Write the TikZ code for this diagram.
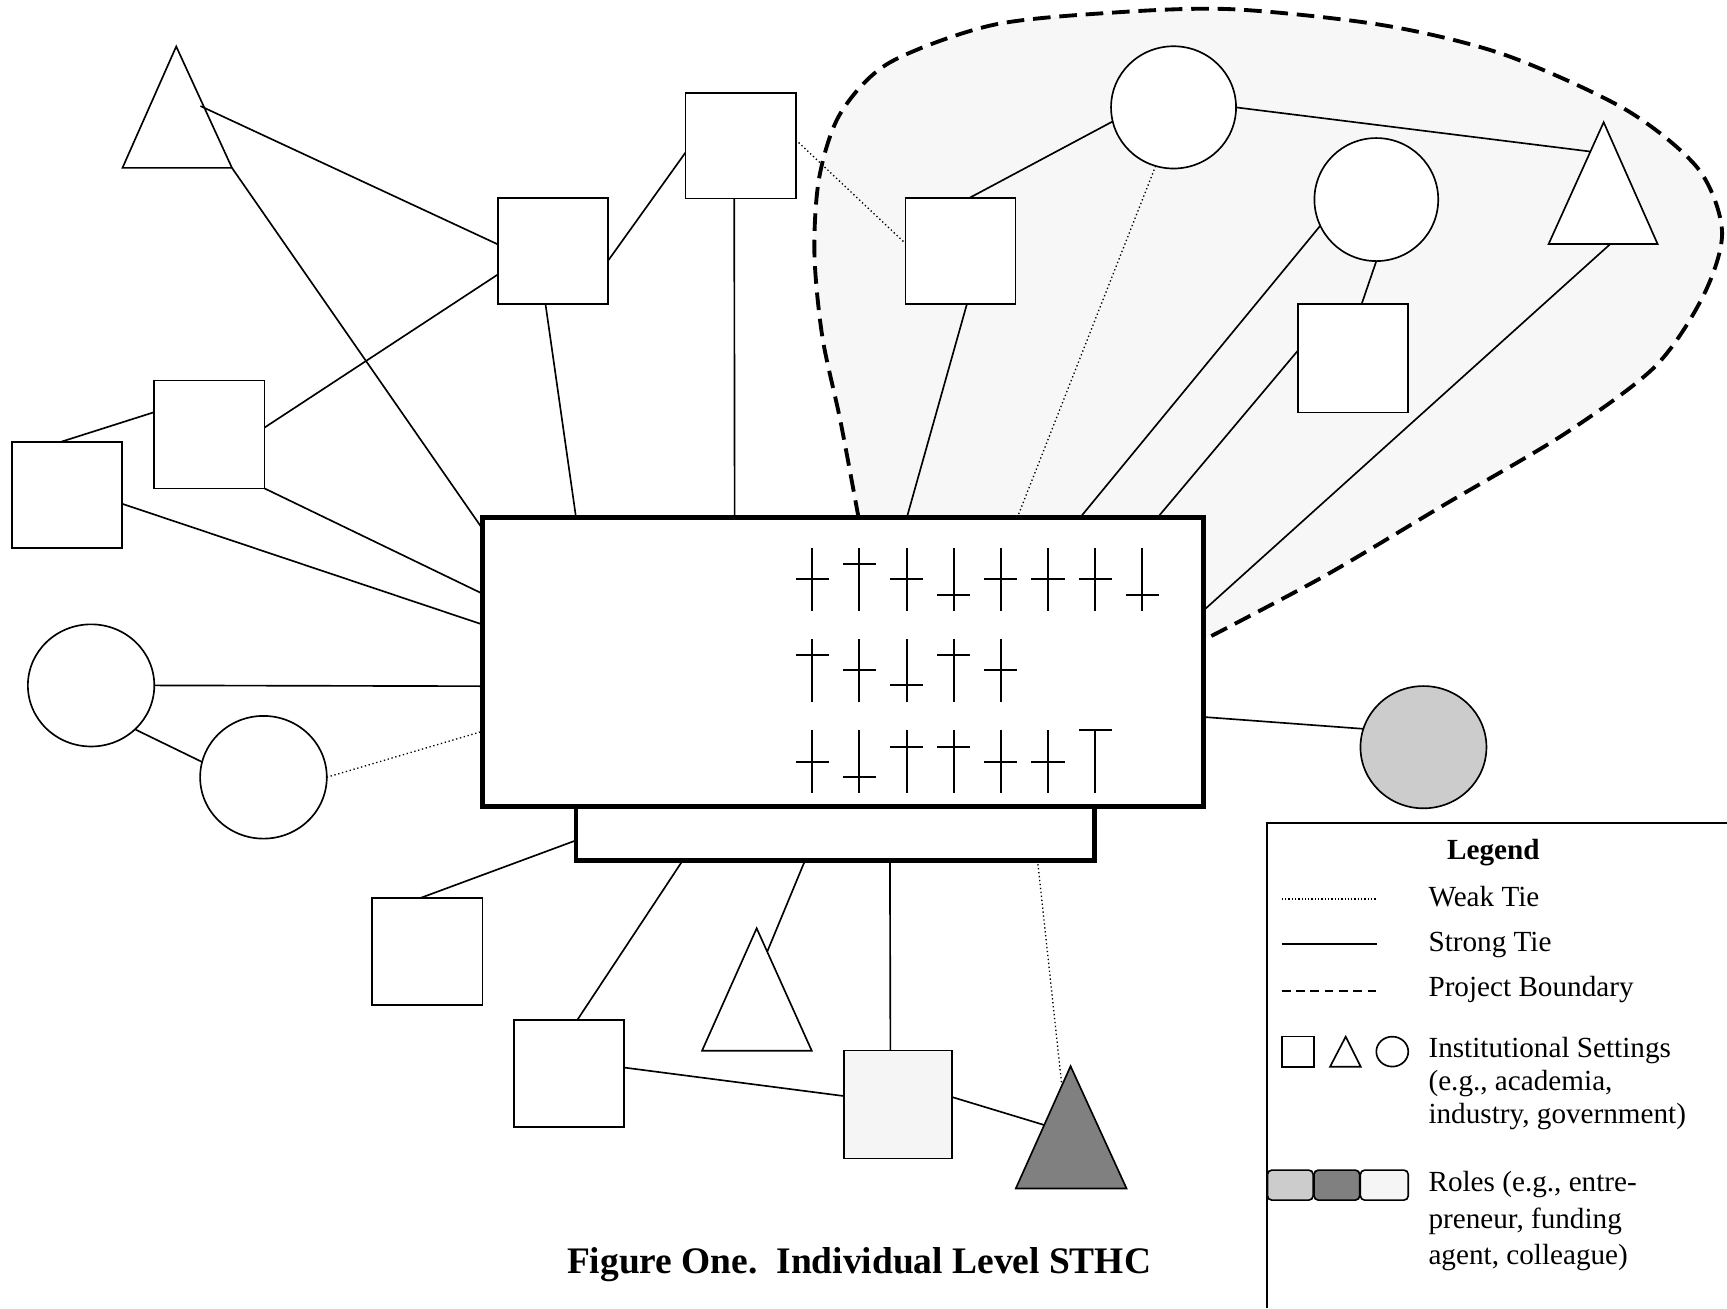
\documentclass[tikz,border=0pt]{standalone}
\usepackage{fontspec}
\setmainfont{Liberation Serif}
\usetikzlibrary{shapes.geometric,calc}
\pgfdeclarelayer{bgfill}
\pgfdeclarelayer{bglines}
\pgfsetlayers{bgfill,bglines,main}
\definecolor{bfill}{HTML}{F7F7F7}
\definecolor{rlight}{HTML}{CCCCCC}
\definecolor{rdark}{HTML}{808080}
\definecolor{rpale}{HTML}{F5F5F5}
\begin{document}
\begin{tikzpicture}[x=1pt,y=-1pt,
  tie/.style={line width=1.5pt},
  weak/.style={line width=1.2pt, dash pattern=on 1.2pt off 2.4pt},
  sq/.style={draw, fill=white, line width=1.5pt, minimum width=100pt, minimum height=96pt, inner sep=0pt, outer sep=0pt},
  circ/.style={draw, fill=white, ellipse, line width=1.5pt, inner sep=0pt, outer sep=0pt},
  tri/.style={draw, fill=white, line width=1.5pt},
  thickbox/.style={draw, fill=white, line width=4.3pt, inner sep=0pt, outer sep=0pt},
  bar/.style={line width=1.8pt},
  boundary/.style={line width=3.5pt, dash pattern=on 16pt off 8pt},
  lgtext/.style={anchor=base west, inner sep=0pt, font=\fontsize{26.5pt}{29pt}\selectfont},
  rolebox/.style={draw, line width=1.5pt, rounded corners=4pt, minimum width=41.5pt, minimum height=27.3pt, inner sep=0pt}
]
\useasboundingbox (0,0) rectangle (1568,1188);

% central boxes
\node[thickbox, minimum width=471pt, minimum height=49pt] (L) at (758.5,756.5) {};
\node[thickbox, minimum width=655pt, minimum height=262pt] (M) at (765.5,601) {};

% squares
\node[sq] (S1) at (502,228) {};
\node[sq] (S2) at (672.5,132.2) {};
\node[sq] (S3) at (872,228) {};
\node[sq, minimum height=98.5pt] (S4) at (1228.5,325.2) {};
\node[sq, minimum height=98pt] (S5) at (190.1,394.4) {};
\node[sq] (S6) at (61,449.5) {};
\node[sq, minimum height=97pt] (S7) at (388,864) {};
\node[sq, minimum height=97pt] (S8) at (516.5,974.5) {};
\node[sq, fill=rpale, minimum width=98pt, minimum height=98pt] (S9) at (815.3,1002.9) {};

% circles
\node[circ, minimum width=113.5pt, minimum height=111pt] (C1) at (1065.5,97.5) {};
\node[circ, minimum width=112.4pt, minimum height=111.7pt] (C2) at (1249.6,181.2) {};
\node[circ, minimum width=114.8pt, minimum height=110.9pt] (C3) at (82.7,622.3) {};
\node[circ, minimum width=115pt, minimum height=111.4pt] (C4) at (239.2,705.7) {};
\node[circ, fill=rlight, minimum width=114.4pt, minimum height=111pt] (C5) at (1292.4,678.4) {};

% triangles
\draw[tri] (160,42.2) coordinate (T1a) -- (111.2,152.4) coordinate (T1l) -- (210.6,152.4) coordinate (T1r) -- cycle;
\coordinate (T1e) at (182,96.3);
\draw[tri] (1456,111) coordinate (T2a) -- (1406,221.6) coordinate (T2l) -- (1505,221.6) coordinate (T2r) -- cycle;
\coordinate (T2e) at (1444,137.6);
\coordinate (T2b) at (1462,221.6);
\draw[tri] (687,842.8) coordinate (T3a) -- (637.4,954) coordinate (T3l) -- (737,954) coordinate (T3r) -- cycle;
\coordinate (T3e) at (696.6,864);
\draw[tri, fill=rdark] (972,968) coordinate (T4a) -- (922.3,1079) coordinate (T4l) -- (1022.8,1079) coordinate (T4r) -- cycle;
\coordinate (T4e) at (948,1021.4);
\coordinate (T4d) at (964,985);

% attachment points on the central boxes
\coordinate (mS1) at ($(M.north west)+(85,0)$);
\coordinate (mS2) at ($(M.north west)+(229,0)$);
\coordinate (bA)  at ($(M.north west)+(341.5,0)$);
\coordinate (mS3) at ($(M.north west)+(385.3,0)$);
\coordinate (mC1) at ($(M.north west)+(485.6,0)$);
\coordinate (mC2) at ($(M.north west)+(542.6,0)$);
\coordinate (mS4) at ($(M.north west)+(612.9,0)$);
\coordinate (mT1) at ($(M.north west)+(0,10)$);
\coordinate (mS5) at ($(M.north west)+(0,69)$);
\coordinate (mS6) at ($(M.north west)+(0,97)$);
\coordinate (mC3) at ($(M.north west)+(0,153)$);
\coordinate (mC4) at ($(M.north west)+(0,194)$);
\coordinate (mT2) at ($(M.north east)+(0,84)$);
\coordinate (bB)  at ($(M.north east)+(0,111)$);
\coordinate (mC5) at ($(M.north east)+(0,181)$);
\coordinate (lS7) at ($(L.north west)+(0,31)$);
\coordinate (lS8) at ($(L.south west)+(97,0)$);
\coordinate (lT3) at ($(L.south west)+(208,0)$);
\coordinate (lS9) at ($(L.south west)+(285,0)$);
\coordinate (lT4) at ($(L.south west)+(419,0)$);

% project boundary fill
\begin{pgfonlayer}{bgfill}
\fill[bfill] plot[smooth] coordinates {(bA) (763,382) (746.6,305.7) (739.4,229.3) (743.9,160.5) (763,103) (806.9,57.3) (900,23) (1009.6,11.5) (1119,8.4) (1256.5,23) (1366,49.7) (1475.8,99.4) (1541.6,152.9) (1563.5,210) (1547,267.5) (1503,332.5) (1421,393.6) (1311,458.5) (1201.6,523.5) (bB)} -- cycle;
\end{pgfonlayer}

% connectors
\begin{pgfonlayer}{bglines}
\draw[tie] (T1r) -- (mT1);
\draw[tie] (S1.350.1) -- (S2.187.5);
\draw[tie] (S1.203.5) -- (S5.7.9);
\draw[tie] (S1.262.3) -- (mS1);
\draw[tie] (S2.263.5) -- (mS2);
\draw[weak] (S2.6.8) -- (S3.172);
\draw[tie] (S3.81.7) -- (C1.193.3);
\draw[tie] (S3.277.1) -- (mS3);
\draw[tie] (C1.east) -- (T2e);
\draw[weak] (C1.253.6) -- (mC1);
\draw[tie] (C2.205.9) -- (mC2);
\draw[tie] (C2.south) -- (S4.81.7);
\draw[tie] (S4.172.9) -- (mS4);
\draw[tie] (T2b) -- (mT2);
\draw[tie] (S5.158.3) -- (S6.98.2);
\draw[tie] (S5.south east) -- (mS5);
\draw[tie] (S6.351.95) -- (mS6);
\draw[tie] (C3.east) -- (mC3);
\draw[tie] (C3.315.8) -- (C4.166.7);
\draw[weak] (C4.east) -- (mC4);
\draw[tie] (S7.98) -- (lS7);
\draw[tie] (S8.81.3) -- (lS8);
\draw[tie] (T3e) -- (lT3);
\draw[tie] (S9.98.6) -- (lS9);
\draw[tie] (S8.6.8) -- (S9.171);
\draw[tie] (S9.8.3) -- (T4e);
\draw[weak] (lT4) -- (T4d);
\draw[tie] (C5.163.5) -- (mC5);
\draw[boundary] plot[smooth] coordinates {(bA) (763,382) (746.6,305.7) (739.4,229.3) (743.9,160.5) (763,103) (806.9,57.3) (900,23) (1009.6,11.5) (1119,8.4) (1256.5,23) (1366,49.7) (1475.8,99.4) (1541.6,152.9) (1563.5,210) (1547,267.5) (1503,332.5) (1421,393.6) (1311,458.5) (1201.6,523.5) (bB)};
\end{pgfonlayer}
\draw[tie] (T1e) -- (S1.173.2);

% marks inside the central box
\foreach \i/\f in {0/0.49,1/0.25,2/0.49,3/0.74,4/0.49,5/0.49,6/0.49,7/0.74}{
  \draw[bar] ({737.5+42.8*\i},497.8) -- ({737.5+42.8*\i},554.8);
  \draw[bar] ({722.5+42.8*\i},{497.8+57*\f}) -- ({752.5+42.8*\i},{497.8+57*\f});
}
\foreach \i/\f in {0/0.25,1/0.49,2/0.74,3/0.25,4/0.49}{
  \draw[bar] ({737.5+42.8*\i},580.5) -- ({737.5+42.8*\i},637);
  \draw[bar] ({722.5+42.8*\i},{580.5+56.5*\f}) -- ({752.5+42.8*\i},{580.5+56.5*\f});
}
\foreach \i/\f in {0/0.5,1/0.74,2/0.26,3/0.26,4/0.5,5/0.5,6/0}{
  \draw[bar] ({737.5+42.8*\i},663) -- ({737.5+42.8*\i},720.3);
  \draw[bar] ({722.5+42.8*\i},{663+57.3*\f}) -- ({752.5+42.8*\i},{663+57.3*\f});
}

% legend
\draw[line width=1.5pt] (1150.6,1188) -- (1150.6,747) -- (1568,747);
\node[anchor=base, inner sep=0pt, font=\fontsize{26.5pt}{29pt}\selectfont\bfseries] (lgTitle) at (1355.8,780.8) {Legend};
\coordinate (lwA) at (1163.7,816.2); \coordinate (lwB) at (1250,816.2);
\draw[line width=1.2pt, dash pattern=on 1.2pt off 1.8pt] (lwA) -- (lwB);
\node[lgtext] (lgWeak) at (1296.8,822.6) {Weak Tie};
\coordinate (lsA) at (1163.7,857.4); \coordinate (lsB) at (1250,857.4);
\draw[line width=1.8pt] (lsA) -- (lsB);
\node[lgtext] (lgStrong) at (1296.8,864.1) {Strong Tie};
\coordinate (ldA) at (1163.7,899.8); \coordinate (ldB) at (1250,899.8);
\draw[line width=1.6pt, dash pattern=on 8pt off 5pt] (ldA) -- (ldB);
\node[lgtext] (lgBound) at (1296.8,904.3) {Project Boundary};
\node[draw, line width=1.5pt, minimum width=29.6pt, minimum height=27.3pt, inner sep=0pt] (iSq) at (1178.5,954.85) {};
\draw[line width=1.5pt] (1221.8,941.2) coordinate (iTa) -- (1207.6,968.5) coordinate (iTl) -- (1235.4,968.5) coordinate (iTr) -- cycle;
\node[draw, ellipse, line width=1.5pt, minimum width=29pt, minimum height=27.2pt, inner sep=0pt] (iCi) at (1264.1,954.8) {};
\node[lgtext] (lgInst1) at (1296.8,960) {Institutional Settings};
\node[lgtext] (lgInst2) at (1296.8,990) {(e.g., academia,};
\node[lgtext] (lgInst3) at (1296.8,1020) {industry, government)};
\node[rolebox, fill=rlight] (r1) at (1171.5,1076) {};
\node[rolebox, fill=rdark] (r2) at (1213.75,1076) {};
\node[rolebox, fill=rpale, minimum width=43.5pt] (r3) at (1256.85,1076) {};
\node[lgtext] (lgRole1) at (1296.8,1082) {Roles (e.g., entre-};
\node[lgtext] (lgRole2) at (1296.8,1115) {preneur, funding};
\node[lgtext] (lgRole3) at (1296.8,1148) {agent, colleague)};

% caption
\node[anchor=base, inner sep=0pt, font=\fontsize{34pt}{40pt}\selectfont\bfseries] (cap) at (780,1156) {Figure One.\ \ Individual Level STHC};
\end{tikzpicture}
\end{document}
